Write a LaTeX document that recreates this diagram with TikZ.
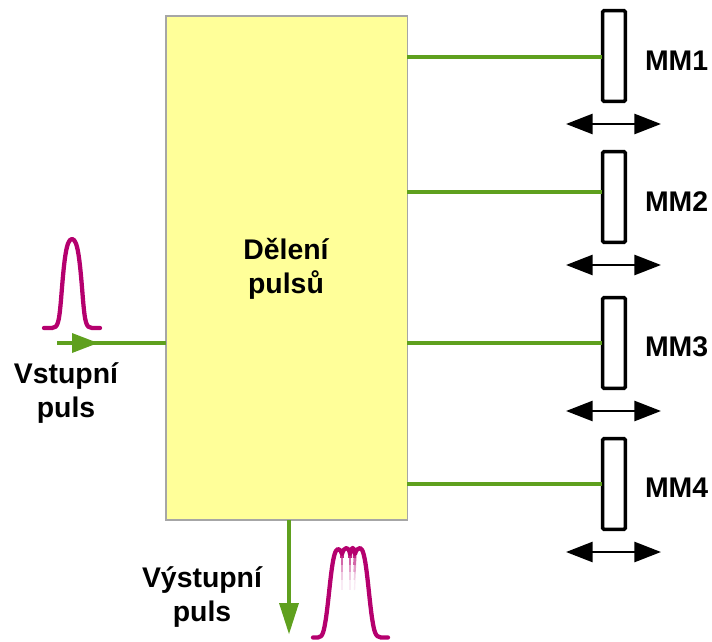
\documentclass[tikz,border=0pt]{standalone}
\usepackage{fontspec}
\setmainfont{Liberation Sans}
\usetikzlibrary{arrows.meta}
\definecolor{boxfill}{HTML}{FFFF99}
\definecolor{boxline}{HTML}{A6A6A6}
\definecolor{beam}{HTML}{5FA01E}
\definecolor{pulse}{HTML}{B5006E}
\tikzset{
  every node/.style={inner sep=0pt,outer sep=0pt},
  lbl/.style={font=\bfseries\fontsize{21.3}{25.5}\selectfont,align=center,text=black},
  splitter/.style={draw=boxline,line width=1pt,fill=boxfill,minimum width=181pt,minimum height=378pt},
  mirror/.style={draw=black,line width=2.6pt,fill=white,rounded corners=1pt,minimum width=17pt,minimum height=68pt},
  beamline/.style={draw=beam,line width=3pt},
  beamhead/.style={fill=beam,draw=none},
  travel/.style={draw=black,line width=2pt,{Triangle[length=20pt,width=15pt]}-{Triangle[length=20pt,width=15pt]}},
  pulseline/.style={draw=pulse,line width=3.2pt,line cap=round,line join=round}
}
\begin{document}
\begin{tikzpicture}[x=0.75pt,y=-0.75pt]
\useasboundingbox (0,0) rectangle (712,641);
\node[splitter] (box) at (286.5,268) {};
\node[lbl] (title) at (286,269) {Dělení\\pulsů};
% mirrors
\node[mirror] (m1) at (614,56) {};
\node[mirror] (m2) at (614,197) {};
\node[mirror] (m3) at (614,343) {};
\node[mirror] (m4) at (614,484) {};
\node[lbl,anchor=west] (l1) at (645,61) {MM1};
\node[lbl,anchor=west] (l2) at (645,202) {MM2};
\node[lbl,anchor=west] (l3) at (645,347) {MM3};
\node[lbl,anchor=west] (l4) at (645,488) {MM4};
% beam ends
\coordinate (b1) at (407,57); \coordinate (e1) at (602,57);
\coordinate (b2) at (407,192); \coordinate (e2) at (602,192);
\coordinate (b3) at (407,343); \coordinate (e3) at (602,343);
\coordinate (b4) at (407,484); \coordinate (e4) at (602,484);
\draw[beamline] (b1) -- (e1);
\draw[beamline] (b2) -- (e2);
\draw[beamline] (b3) -- (e3);
\draw[beamline] (b4) -- (e4);
% travel arrows
\foreach \n/\y in {1/124,2/265,3/411,4/552}{
  \coordinate (tl\n) at (566,\y); \coordinate (tr\n) at (661,\y);
  \draw[travel] (tl\n) -- (tr\n);
}
% input
\coordinate (in) at (57,343);
\coordinate (inA) at (72,333); \coordinate (inB) at (72,353); \coordinate (inC) at (98,343);
\draw[beamline] (in) -- (box.west |- in);
\fill[beamhead] (inA) -- (inC) -- (inB) -- cycle;
\node[lbl] (vst) at (66,393) {Vstupní\\puls};
% output
\coordinate (outS) at (289,520);
\coordinate (outA) at (279,603); \coordinate (outB) at (299,603); \coordinate (outC) at (289,634);
\draw[beamline] (outS) -- (289,605);
\fill[beamhead] (outA) -- (outC) -- (outB) -- cycle;
\node[lbl] (vys) at (202,597) {Výstupní\\puls};
% input pulse
\draw[pulseline] (44,328) -- (52,328) .. controls (58,328) and (59,322) .. (61,300)
  .. controls (64,262) and (66,239) .. (72,239)
  .. controls (78,239) and (80,262) .. (83,300)
  .. controls (85,322) and (86,328) .. (92,328) -- (100,328);
% output pulse: fading inner traces
\foreach \o/\a/\b/\w in {0.85/552/558/2.6, 0.6/558/565/2.2, 0.38/565/572/1.8, 0.2/572/580/1.3, 0.08/580/590/1}{
  \draw[pulse,opacity=\o,line width=\w pt] (342,\a) -- (342,\b);
  \draw[pulse,opacity=\o,line width=\w pt] (350,\a) -- (350,\b);
  \draw[pulse,opacity=\o,line width=\w pt] (355,\a) -- (354.5,\b);
}
% output pulse: envelope
\draw[pulseline] (313,637.5) -- (318,637.5) .. controls (323,637.5) and (324,630) .. (326,618)
  .. controls (330,590) and (332,549) .. (338,549)
  .. controls (340,549) and (341,551) .. (342,554)
  .. controls (343,550) and (345,548) .. (346.5,548)
  .. controls (348,548) and (349.3,550) .. (350,554)
  .. controls (350.7,550) and (351.7,548) .. (352.7,548)
  .. controls (353.7,548) and (354.6,550) .. (355,554)
  .. controls (356,550) and (358,548) .. (360,548)
  .. controls (366,548) and (368,590) .. (372,618)
  .. controls (374,630) and (375,637.5) .. (381,637.5) -- (388,637.5);
\end{tikzpicture}
\end{document}
